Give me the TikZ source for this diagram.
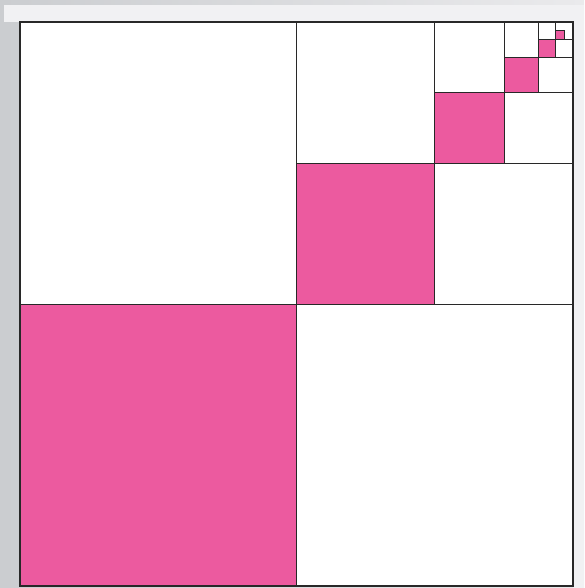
\documentclass[tikz,border=0pt]{standalone}
\usetikzlibrary{calc}

\begin{document}
\begin{tikzpicture}[x=1pt, y=-1pt]
		% Defines colors to match the image
		\definecolor{pinkfill}{RGB}{236, 90, 159} % Hot pink
		\definecolor{frameleft}{RGB}{203, 205, 208} % Darker gray on the left
		\definecolor{frameright}{RGB}{234, 234, 236} % Light gray on the right
		\definecolor{panel}{RGB}{241, 241, 243} % Inner light panel
		\definecolor{edge}{RGB}{40, 40, 40} % Dark lines
		
		% --- Background ---
		% Gray frame behind the whole square
		\useasboundingbox (0, 0) rectangle (584, 588);
		\shade[left color=frameleft, right color=frameright] (0, 0) rectangle (584, 588);
		\fill[panel] (4, 5) rectangle (584, 22);
		\fill[panel] (573, 22) rectangle (584, 588);
		
		% Corners of the big square
		\coordinate (A) at (20, 22);   % top left
		\coordinate (B) at (573, 586); % bottom right
		\fill[white] (A) rectangle (B);
		
		% --- Pink squares ---
		% Each level takes the lower left quarter of the upper right quarter.
		% Edges of the levels, worked out from the big square.
		\def\xa{20}    \def\xb{296.5} \def\xc{434.75} \def\xd{503.9}
		\def\xe{538.4} \def\xf{555.7} \def\xg{564.4}  \def\xr{573}
		\def\ya{586}   \def\yb{304}   \def\yc{163}    \def\yd{92.5}
		\def\ye{57.25} \def\yf{39.6}  \def\yg{30.8}   \def\yt{22}
		
		\fill[pinkfill] (\xa, \ya) rectangle (\xb, \yb); % level 1
		\fill[pinkfill] (\xb, \yb) rectangle (\xc, \yc); % level 2
		\fill[pinkfill] (\xc, \yc) rectangle (\xd, \yd); % level 3
		\fill[pinkfill] (\xd, \yd) rectangle (\xe, \ye); % level 4
		\fill[pinkfill] (\xe, \ye) rectangle (\xf, \yf); % level 5
		\fill[pinkfill] (\xf, \yf) rectangle (\xg, \yg); % level 6
		
		% --- Grid lines ---
		% Split every upper right quarter into four again
		\begin{scope}[draw=edge, line width=0.8pt]
			\draw (\xb, \yt) -- (\xb, \ya);  \draw (\xa, \yb) -- (\xr, \yb);
			\draw (\xc, \yt) -- (\xc, \yb);  \draw (\xb, \yc) -- (\xr, \yc);
			\draw (\xd, \yt) -- (\xd, \yc);  \draw (\xc, \yd) -- (\xr, \yd);
			\draw (\xe, \yt) -- (\xe, \yd);  \draw (\xd, \ye) -- (\xr, \ye);
			\draw (\xf, \yt) -- (\xf, \ye);  \draw (\xe, \yf) -- (\xr, \yf);
			% The last one only has its pink square outlined
			\draw (\xf, \yf) rectangle (\xg, \yg);
		\end{scope}
		
		% --- Outer square ---
		\draw[edge, line width=1.2pt] (A) rectangle (B);
		
	\end{tikzpicture}
\end{document}
